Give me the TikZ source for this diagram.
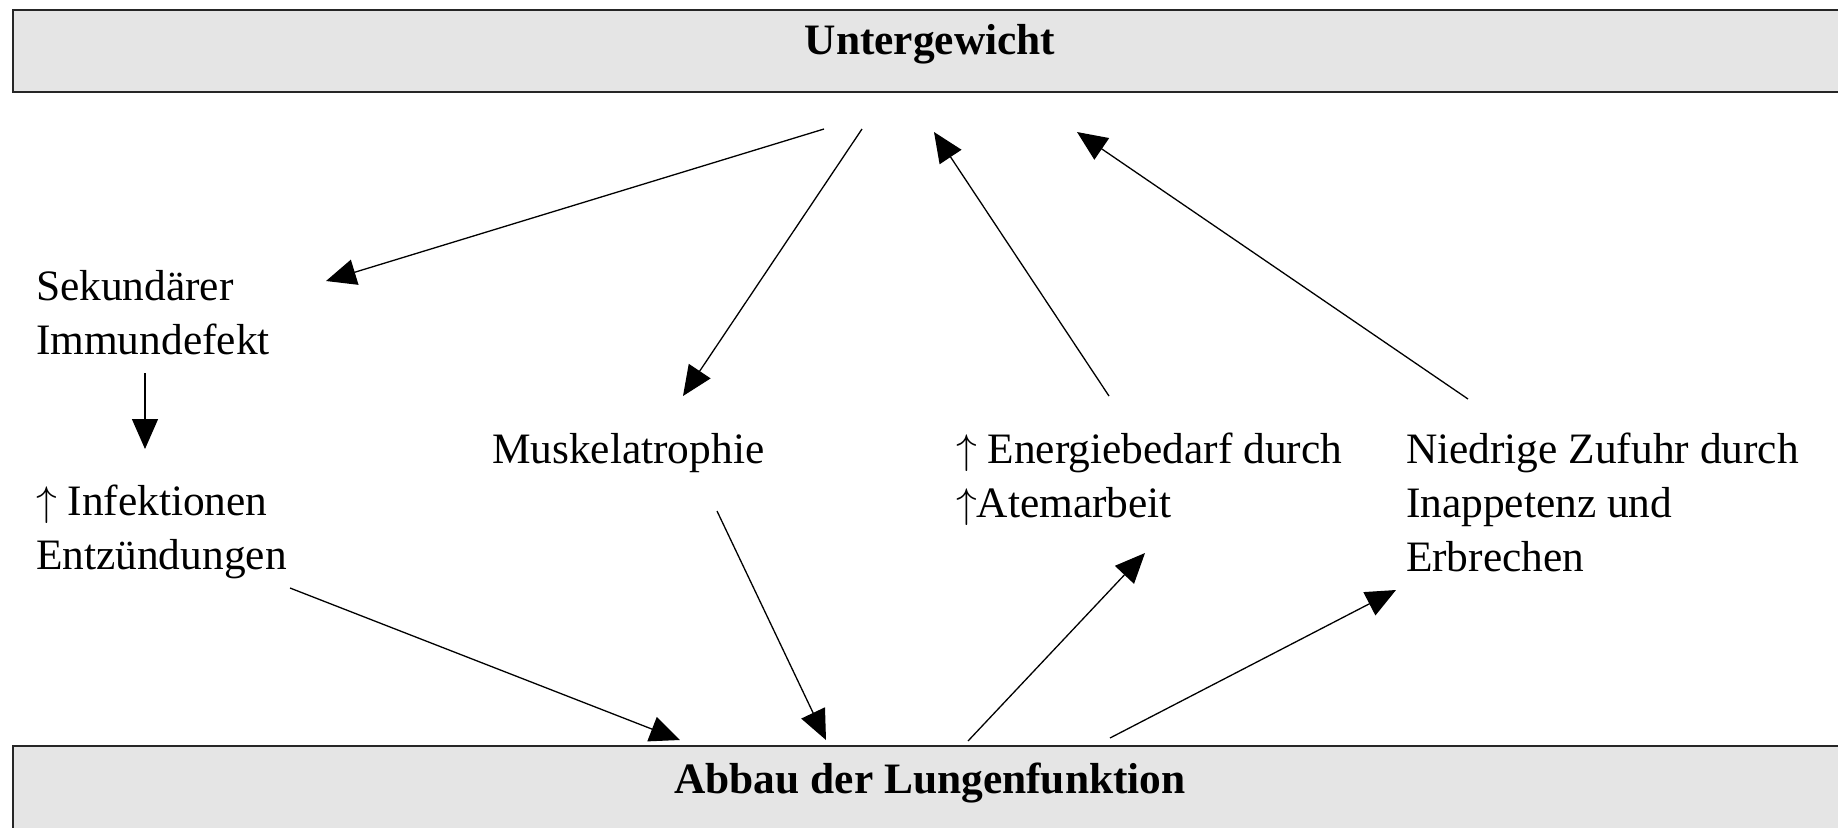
\documentclass[tikz,border=0pt]{standalone}
\usepackage{fontspec}
\setmainfont{Liberation Serif}
\usetikzlibrary{arrows.meta}
\definecolor{boxgray}{HTML}{E5E5E5}
\tikzset{
  bandbox/.style={draw=black!85, fill=boxgray, line width=1.1pt},
  lbl/.style={inner sep=0pt, outer sep=0pt, font=\fontsize{21.7}{27}\selectfont},
  head/.style={lbl, font=\fontsize{21.7}{27}\selectfont\bfseries},
  conn/.style={line width=0.65pt, -{Triangle[length=15pt,width=13pt]}}
}
\newcommand{\lines}[1]{\begin{tabular}[t]{@{}l@{}}#1\end{tabular}}
\newcommand{\upar}{$\uparrow$}
\begin{document}
\begin{tikzpicture}[x=0.5pt,y=-0.5pt]
\useasboundingbox (0,0) rectangle (1838,827);
\clip (0,0) rectangle (1838,827);
% bands
\path[bandbox] (13,10) rectangle (1860,92);
\path[bandbox] (13,746) rectangle (1860,860);
\node[head, anchor=base] (unter) at (930,54) {Untergewicht};
\node[head, anchor=base] (abbau) at (930,793) {Abbau der Lungenfunktion};
% labels
\node[lbl, anchor=base west] (sek) at (36,300) {\lines{Sekundärer\\Immundefekt}};
\node[lbl, anchor=base west] (inf) at (36,515) {\lines{\upar{} Infektionen\\Entzündungen}};
\node[lbl, anchor=base west] (musk) at (492,463) {Muskelatrophie};
\node[lbl, anchor=base west] (ener) at (956,463) {\lines{\upar{} Energiebedarf durch\\\upar{}Atemarbeit}};
\node[lbl, anchor=base west] (nied) at (1406,463) {\lines{Niedrige Zufuhr durch\\Inappetenz und\\Erbrechen}};
% connector ends
\coordinate (a1s) at (824,129);  \coordinate (a1e) at (326,281);
\coordinate (a2s) at (862,129);  \coordinate (a2e) at (683,396);
\coordinate (a3s) at (1109,396); \coordinate (a3e) at (934,132);
\coordinate (a4s) at (1468,399); \coordinate (a4e) at (1077,132);
\coordinate (a5s) at (290,588);  \coordinate (a5e) at (680,740);
\coordinate (a6s) at (717,511);  \coordinate (a6e) at (826,740);
\coordinate (a7s) at (968,741);  \coordinate (a7e) at (1145,553);
\coordinate (a8s) at (1110,738); \coordinate (a8e) at (1396,590);
\coordinate (a9s) at (145,373);  \coordinate (a9e) at (145,449);
\draw[conn] (a1s) -- (a1e);
\draw[conn] (a2s) -- (a2e);
\draw[conn] (a3s) -- (a3e);
\draw[conn] (a4s) -- (a4e);
\draw[conn] (a5s) -- (a5e);
\draw[conn] (a6s) -- (a6e);
\draw[conn] (a7s) -- (a7e);
\draw[conn] (a8s) -- (a8e);
\draw[conn] (a9s) -- (a9e);
\end{tikzpicture}
\end{document}
